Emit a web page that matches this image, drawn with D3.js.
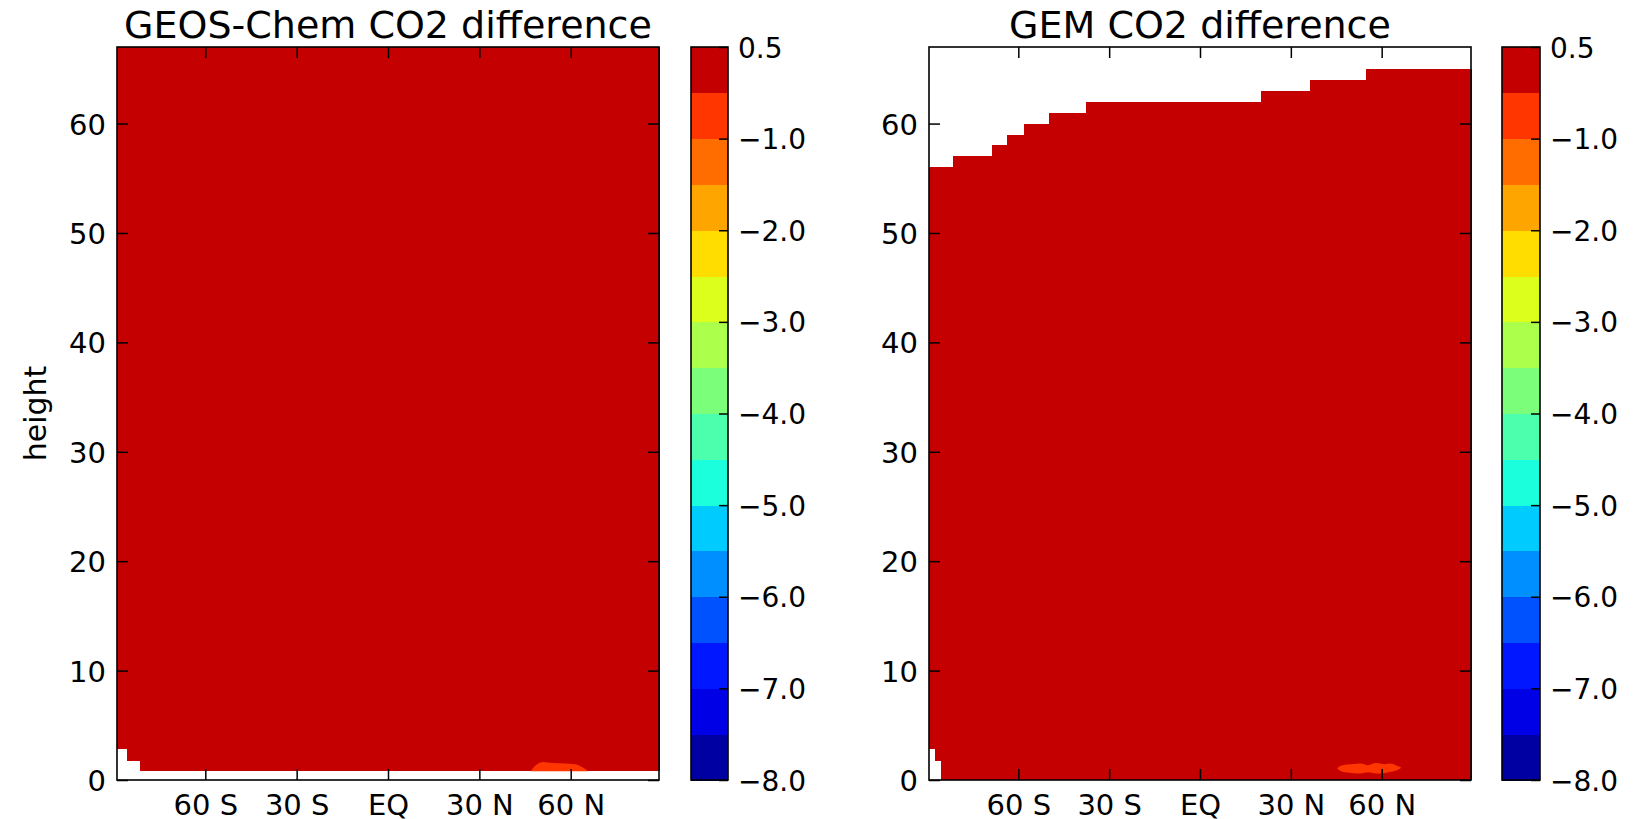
<!DOCTYPE html>
<html>
<head>
<meta charset="utf-8">
<script src="https://cdn.jsdelivr.net/npm/d3@7"></script>
<style>
    body { margin: 0; background: #fff; }
    text { font-family: "DejaVu Sans", sans-serif; fill: #000; }
</style>
</head>
<body>
<div id="chart"></div>
<script>
const WIDTH = 1638;
const HEIGHT = 819;
const TOP = 47;
const BOTTOM = 780;

// contour levels, drawn evenly spaced on the colour bar
const levels = [-8.0, -7.5, -7.0, -6.5, -6.0, -5.5, -5.0, -4.5, -4.0, -3.5, -3.0, -2.5, -2.0, -1.5, -1.0, -0.5, 0.5];
const cbTicks = [0.5, -1.0, -2.0, -3.0, -4.0, -5.0, -6.0, -7.0, -8.0];

const latTicks = [-60, -30, 0, 30, 60];
const latLabels = ["60 S", "30 S", "EQ", "30 N", "60 N"];
const heightTicks = [0, 10, 20, 30, 40, 50, 60];

// value of the bulk of the field, and of the small surface patches
const fieldValue = 0.0;
const patchValue = -0.75;

// GEOS-Chem: lowest / highest filled level per latitude band
const geosFloorLat = [-89, -85.8, -81.6, 89];
const geosFloor = [2.8, 1.7, 0.8];
const geosTopLat = [-89, 89];
const geosTop = [67];
// patch: [lat, low, high]
const geosPatch = [[46.8, 0.8, 0.8], [49, 0.8, 1.45], [51, 0.8, 1.65], [54, 0.8, 1.55], [58, 0.8, 1.5],
    [61.5, 0.8, 1.45], [64, 0.8, 1.15], [65.8, 0.8, 0.8]];

// GEM
const gemFloorLat = [-89.5, -87.5, -85.5, 89.5];
const gemFloor = [2.8, 1.7, 0];
const gemTopLat = [-89.5, -81.6, -68.7, -63.6, -58.1, -49.8, -37.8, 20, 36.3, 54.8, 89.5];
const gemTop = [56, 57, 58, 59, 60, 61, 62, 63, 64, 65];
const gemPatch = [[45.3, 1.05, 1.1], [47, 0.75, 1.35], [50, 0.65, 1.45], [53, 0.6, 1.5], [55.5, 0.7, 1.35],
    [58, 0.6, 1.55], [61, 0.65, 1.45], [63, 0.75, 1.5], [65, 0.9, 1.3], [66.4, 1.1, 1.15]];

// matplotlib "jet"
const jetR = d3.scaleLinear().domain([0, 0.35, 0.66, 0.89, 1]).range([0, 0, 1, 1, 0.5]).clamp(true);
const jetG = d3.scaleLinear().domain([0, 0.125, 0.375, 0.64, 0.91, 1]).range([0, 0, 1, 1, 0, 0]).clamp(true);
const jetB = d3.scaleLinear().domain([0, 0.11, 0.34, 0.65, 1]).range([0.5, 1, 1, 0, 0]).clamp(true);
const norm = d3.scaleLinear().domain([levels[0], levels[levels.length - 1]]).range([0, 1]);

function jet(t) {
    return d3.rgb(255 * jetR(t), 255 * jetG(t), 255 * jetB(t)).formatHex();
}

function bandColor(v) {
    let i = Math.max(0, Math.min(levels.length - 2, d3.bisectRight(levels, v) - 1));
    return jet(norm((levels[i] + levels[i + 1]) / 2));
}

const svg = d3.select("#chart").append("svg")
    .attr("width", WIDTH)
    .attr("height", HEIGHT);

function styleAxis(g, size) {
    g.select(".domain").remove();
    g.selectAll("line").attr("stroke", "#000").attr("stroke-width", 1.5);
    g.selectAll("text")
        .attr("font-family", "DejaVu Sans, sans-serif")
        .attr("font-size", size)
        .attr("fill", "#000");
}

function drawPanel(o) {
    const x = d3.scaleLinear().domain(o.latDomain).range([o.left, o.right]);
    const y = d3.scaleLinear().domain([0, 67]).range([BOTTOM, TOP]);
    const g = svg.append("g");

    // filled columns between floor and top
    const cuts = Array.from(new Set(o.topLat.concat(o.floorLat))).sort((a, b) => a - b);
    const cols = [];
    for (let k = 0; k < cuts.length - 1; k++) {
        const mid = (cuts[k] + cuts[k + 1]) / 2;
        cols.push({
            a: cuts[k], b: cuts[k + 1],
            top: o.top[d3.bisectRight(o.topLat, mid) - 1],
            floor: o.floor[d3.bisectRight(o.floorLat, mid) - 1]
        });
    }
    g.selectAll(".col").data(cols).enter().append("rect")
        .attr("class", "col")
        .attr("x", d => x(d.a))
        .attr("width", d => x(d.b) - x(d.a) + 0.5)
        .attr("y", d => y(d.top))
        .attr("height", d => y(d.floor) - y(d.top))
        .attr("fill", bandColor(fieldValue))
        .attr("shape-rendering", "crispEdges");

    const area = d3.area()
        .x(d => x(d[0]))
        .y0(d => y(d[1]))
        .y1(d => y(d[2]))
        .curve(d3.curveMonotoneX);
    g.append("path")
        .attr("d", area(o.patch))
        .attr("fill", bandColor(patchValue));

    // ticks on all four sides, pointing inward
    styleAxis(g.append("g").attr("transform", `translate(${o.left},0)`)
        .call(d3.axisLeft(y).tickValues(heightTicks).tickSize(-11).tickPadding(11)), 29);
    g.selectAll("text").filter(function () { return this.parentNode.classList.contains("tick"); })
        .attr("dy", "0.36em");
    styleAxis(g.append("g").attr("transform", `translate(${o.right},0)`)
        .call(d3.axisRight(y).tickValues(heightTicks).tickSize(-11).tickFormat("")), 29);
    styleAxis(g.append("g").attr("transform", `translate(0,${TOP})`)
        .call(d3.axisTop(x).tickValues(latTicks).tickSize(-11).tickFormat("")), 29);
    styleAxis(g.append("g").attr("transform", `translate(0,${BOTTOM})`)
        .call(d3.axisBottom(x).tickValues(latTicks).tickSize(-11).tickPadding(14)
            .tickFormat((d, i) => latLabels[i])), 29);

    g.append("rect")
        .attr("x", o.left).attr("y", TOP)
        .attr("width", o.right - o.left).attr("height", BOTTOM - TOP)
        .attr("fill", "none").attr("stroke", "#000").attr("stroke-width", 1.6);

    g.append("text")
        .attr("x", (o.left + o.right) / 2)
        .attr("y", 38)
        .attr("text-anchor", "middle")
        .attr("font-size", 38)
        .text(o.title);
}

function drawColorbar(left, right) {
    const step = (BOTTOM - TOP) / (levels.length - 1);
    const cb = d3.scaleLinear().domain(levels).range(levels.map((d, i) => BOTTOM - i * step));
    const g = svg.append("g");
    const bands = d3.pairs(levels);
    g.selectAll(".band").data(bands).enter().append("rect")
        .attr("class", "band")
        .attr("x", left)
        .attr("width", right - left)
        .attr("y", d => cb(d[1]))
        .attr("height", d => cb(d[0]) - cb(d[1]) + 0.5)
        .attr("fill", d => jet(norm((d[0] + d[1]) / 2)))
        .attr("shape-rendering", "crispEdges");

    styleAxis(g.append("g").attr("transform", `translate(${right},0)`)
        .call(d3.axisRight(cb).tickValues(cbTicks).tickSize(-9).tickPadding(10)
            .tickFormat(d3.format(".1f"))), 28);
    g.selectAll(".tick text").attr("dy", "0.36em");

    g.append("rect")
        .attr("x", left).attr("y", TOP)
        .attr("width", right - left).attr("height", BOTTOM - TOP)
        .attr("fill", "none").attr("stroke", "#000").attr("stroke-width", 1.6);
}

drawPanel({
    title: "GEOS-Chem CO2 difference",
    left: 117, right: 659, latDomain: [-89, 89],
    topLat: geosTopLat, top: geosTop,
    floorLat: geosFloorLat, floor: geosFloor,
    patch: geosPatch
});
drawColorbar(691, 728);

drawPanel({
    title: "GEM CO2 difference",
    left: 929, right: 1471, latDomain: [-89.5, 89.5],
    topLat: gemTopLat, top: gemTop,
    floorLat: gemFloorLat, floor: gemFloor,
    patch: gemPatch
});
drawColorbar(1502, 1540);

svg.append("text")
    .attr("transform", `translate(46,${(TOP + BOTTOM) / 2}) rotate(-90)`)
    .attr("text-anchor", "middle")
    .attr("font-size", 30)
    .text("height");
</script>
</body>
</html>
